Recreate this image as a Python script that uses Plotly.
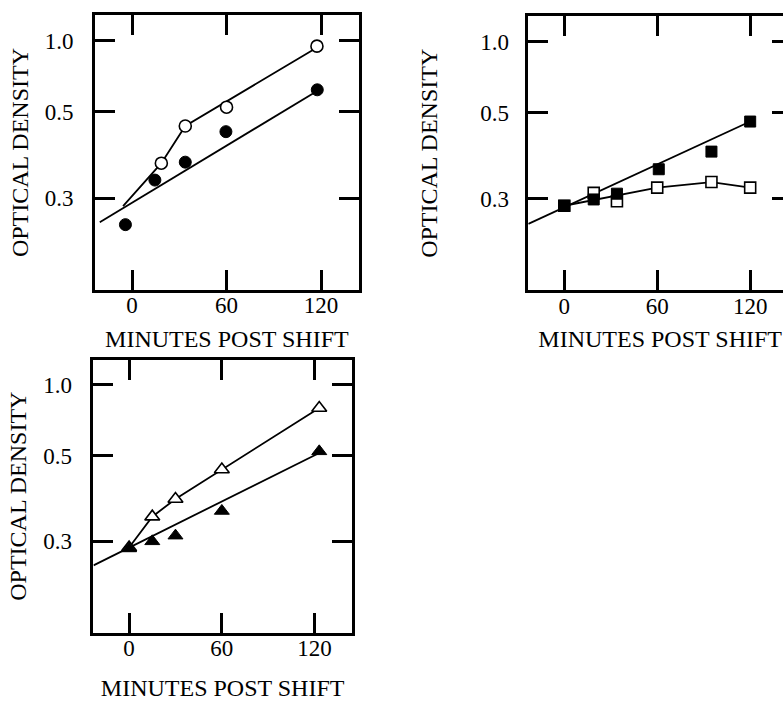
import plotly.graph_objects as go

# ---------------- data ----------------
# Panel 1: circles
p1_open_x = [18.6, 33.8, 60, 117.4]
p1_open_y = [0.353, 0.448, 0.519, 0.939]
p1_fill_x = [-4.2, 14.5, 33.8, 59.6, 117.6]
p1_fill_y = [0.274, 0.324, 0.355, 0.430, 0.604]
p1_open_fit_x = [-5.7, 18.6, 33.8, 118]
p1_open_fit_y = [0.291, 0.353, 0.448, 0.930]
p1_fill_fit_x = [-20.5, 117]
p1_fill_fit_y = [0.276, 0.595]

# Panel 2: squares
p2_open_x = [0, 19, 34, 60, 95, 120]
p2_open_y = [0.292, 0.307, 0.297, 0.314, 0.322, 0.314]
p2_fill_x = [0, 19, 34, 61, 95, 120]
p2_fill_y = [0.292, 0.299, 0.306, 0.343, 0.379, 0.466]
p2_open_fit_x = [0, 60, 95, 120]
p2_open_fit_y = [0.292, 0.314, 0.322, 0.314]
p2_fill_fit_x = [-23.2, 120]
p2_fill_fit_y = [0.275, 0.466]

# Panel 3: triangles
p3_open_x = [0, 15, 30, 60, 123]
p3_open_y = [0.293, 0.335, 0.369, 0.449, 0.778]
p3_fill_x = [0, 15, 30, 60, 123]
p3_fill_y = [0.292, 0.300, 0.307, 0.345, 0.518]
p3_open_fit_x = [0, 15, 30, 123]
p3_open_fit_y = [0.293, 0.335, 0.369, 0.778]
p3_fill_fit_x = [-23, 123]
p3_fill_fit_y = [0.276, 0.511]

y_tick_vals = [1.0, 0.5, 0.3]
y_tick_text = ["1.0", "0.5", "0.3"]
x_tick_vals = [0, 60, 120]
x_tick_text = ["0", "60", "120"]
y_title = "OPTICAL DENSITY"
x_title = "MINUTES POST SHIFT"

# The printed OD axis is a log scale of (OD - offset)
OD_OFFSET = 0.218


def sc(vals):
    return [v - OD_OFFSET for v in vals]


W, H = 795, 701
FONT = "Liberation Serif, Times New Roman, serif"

fig = go.Figure()

panels = [
    dict(ax="", open_x=p1_open_x, open_y=p1_open_y, fill_x=p1_fill_x, fill_y=p1_fill_y,
         ofx=p1_open_fit_x, ofy=p1_open_fit_y, ffx=p1_fill_fit_x, ffy=p1_fill_fit_y,
         sym="circle", size=12,
         xdom=(95, 359.3), ydom=(15.5, 294), xr=(-23.6, 144),
         ylab=14, ytit=10, xtit=13),
    dict(ax="2", open_x=p2_open_x, open_y=p2_open_y, fill_x=p2_fill_x, fill_y=p2_fill_y,
         ofx=p2_open_fit_x, ofy=p2_open_fit_y, ffx=p2_fill_fit_x, ffy=p2_fill_fit_y,
         sym="square", size=11,
         xdom=(529, 793), ydom=(16.7, 294.3), xr=(-23.2, 147),
         ylab=12, ytit=36, xtit=13),
    dict(ax="3", open_x=p3_open_x, open_y=p3_open_y, fill_x=p3_fill_x, fill_y=p3_fill_y,
         ofx=p3_open_fit_x, ofy=p3_open_fit_y, ffx=p3_fill_fit_x, ffy=p3_fill_fit_y,
         sym="triangle-up", size=13,
         xdom=(93.5, 352.3), ydom=(365, 641.7), xr=(-23.1, 144.1),
         ylab=14, ytit=10, xtit=23),
]

layout = dict(
    width=W, height=H,
    margin=dict(l=0, r=0, t=0, b=0),
    paper_bgcolor="white", plot_bgcolor="white",
    showlegend=False,
    font=dict(family=FONT, color="black", size=20),
)

for p in panels:
    xa = "x" + p["ax"]
    ya = "y" + p["ax"]
    line_style = dict(color="black", width=1.8)
    fig.add_trace(go.Scatter(x=p["ffx"], y=sc(p["ffy"]), mode="lines", line=line_style,
                             xaxis=xa, yaxis=ya, hoverinfo="skip"))
    fig.add_trace(go.Scatter(x=p["ofx"], y=sc(p["ofy"]), mode="lines", line=line_style,
                             xaxis=xa, yaxis=ya, hoverinfo="skip"))
    fig.add_trace(go.Scatter(x=p["open_x"], y=sc(p["open_y"]), mode="markers",
                             marker=dict(symbol=p["sym"], size=p["size"], color="white",
                                         line=dict(color="black", width=1.6)),
                             xaxis=xa, yaxis=ya))
    fig.add_trace(go.Scatter(x=p["fill_x"], y=sc(p["fill_y"]), mode="markers",
                             marker=dict(symbol=p["sym"], size=p["size"], color="black",
                                         line=dict(color="black", width=1)),
                             xaxis=xa, yaxis=ya))

    x0, x1 = p["xdom"]
    y0, y1 = p["ydom"]
    common = dict(showline=True, linewidth=2.6, linecolor="black", mirror="ticks",
                  ticks="inside", ticklen=20, tickwidth=2.6, tickcolor="black",
                  showgrid=False, zeroline=False,
                  tickfont=dict(family=FONT, size=23, color="black"))
    layout["xaxis" + p["ax"]] = dict(
        domain=[x0 / W, x1 / W], range=list(p["xr"]), anchor=ya,
        tickvals=x_tick_vals, ticktext=x_tick_text, ticklabelstandoff=-7,
        title=dict(text=x_title, font=dict(family=FONT, size=24, color="black"),
                   standoff=p["xtit"]),
        **common)
    layout["yaxis" + p["ax"]] = dict(
        domain=[1 - y1 / H, 1 - y0 / H], type="log", range=[-1.657, 0.05], anchor=xa,
        tickvals=sc(y_tick_vals), ticktext=y_tick_text, ticklabelstandoff=p["ylab"],
        title=dict(text=y_title, font=dict(family=FONT, size=24, color="black"),
                   standoff=p["ytit"]),
        **common)

fig.update_layout(**layout)
fig.write_html("out.html",
               post_script="document.documentElement.style.overflow='hidden';"
                           "document.body.style.overflow='hidden';document.body.style.margin='0';")
